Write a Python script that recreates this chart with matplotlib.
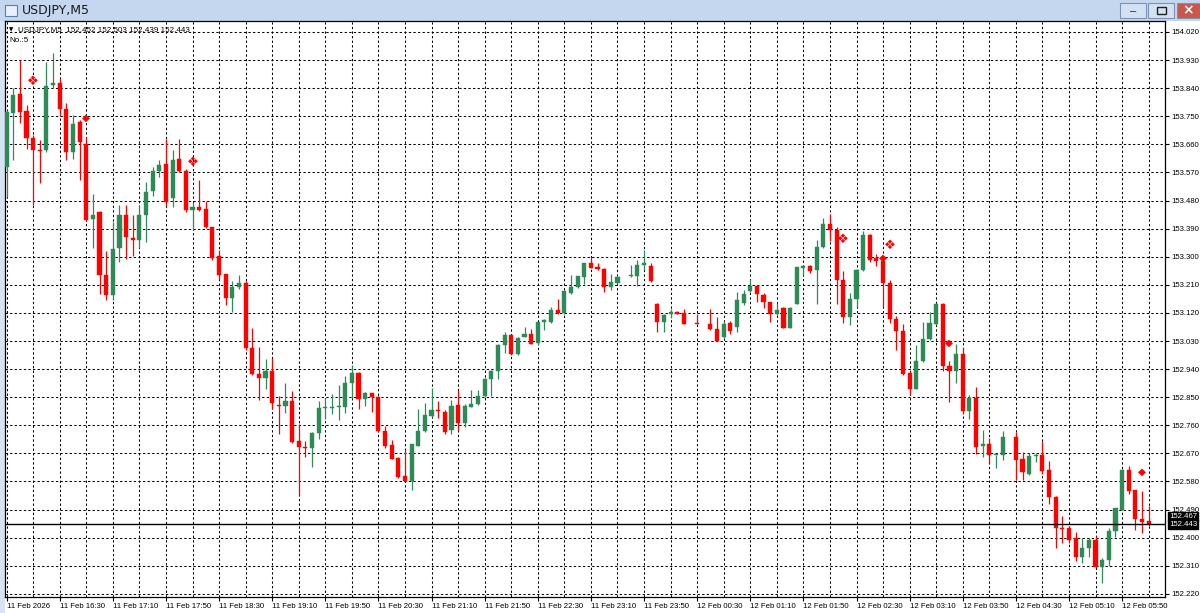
"""
USDJPY M5 蜡烛图（MT4 窗口截图风格）复刻
"""

import numpy as np
import matplotlib
matplotlib.use('Agg')
import matplotlib.pyplot as plt
from matplotlib.patches import Rectangle
from matplotlib.transforms import blended_transform_factory

plt.rcParams['font.family'] = ['Liberation Sans', 'DejaVu Sans']

W, H = 1200, 613

# ========== 数据（逐根 K 线读数，None 表示该位置无可见 K 线）==========
opens = [
    153.587, 153.759, 153.821, 153.766, 153.681, 153.641, 153.641, 153.851, 153.857, 153.773,
    153.634, 153.730, 153.662, 153.420, 153.443, 153.243, 153.178, 153.328, 153.435, 153.361,
    153.354, 153.435, 153.510, 153.574, 153.596, 153.489, 153.612, 153.574, 153.449, 153.459,
    153.454, 153.394, 153.301, 153.244, 153.167, 153.203, 153.216, 153.007, 152.923, 152.910,
    152.935, 152.826, 152.821, 152.839, 152.711, 152.691, 152.687, 152.736, 152.815, 152.814,
    152.819, 152.820, 152.895, 152.929, 152.845, 152.863, 152.852, 152.743, 152.696, 152.655,
    152.596, 152.583, 152.695, 152.741, 152.790, 152.809, 152.803, 152.744, 152.824, 152.768,
    152.819, 152.827, 152.854, 152.909, 152.934, 153.018, 153.048, 152.987, 153.044, 153.051,
    153.023, 153.090, 153.090, 153.130, 153.119, 153.183, 153.202, 153.236, 153.279, 153.266,
    153.260, 153.204, 153.216, None, 153.238, 153.238, 153.274, 153.271, 153.150, 153.091,
    153.118, 153.123, 153.121, None, 153.087, None, 153.084, 153.070, 153.043, 153.087,
    153.075, 153.153, 153.190, 153.206, 153.177, 153.154, 153.117, 153.137, 153.073, 153.149,
    153.265, 153.270, 153.257, 153.332, 153.406, 153.385, 153.225, 153.108, 153.165, 153.257,
    153.371, 153.295, 153.285, 153.215, 153.101, 153.063, 152.929, 152.877, 152.967, 153.038,
    153.086, 153.150, 152.951, 152.935, 152.989, 152.807, 152.847, 152.695, 152.700, 152.664,
    152.665, None, 152.724, 152.651, 152.605, 152.661, 152.666, 152.616, 152.531, 152.432,
    152.430, 152.398, 152.337, 152.368, 152.392, 152.307, 152.330, 152.421, 152.490, 152.616,
    152.552, 152.461, 152.452,
]
highs = [
    153.770, 153.841, 153.930, 153.786, 153.690, 153.673, 153.925, 153.951, 153.871, 153.791,
    153.753, 153.737, 153.684, 153.502, 153.446, 153.317, 153.411, 153.465, 153.465, 153.433,
    153.467, 153.540, 153.588, 153.609, 153.678, 153.642, 153.676, 153.582, 153.475, 153.545,
    153.478, 153.396, 153.323, 153.246, 153.221, 153.240, 153.221, 153.071, 153.010, 152.971,
    152.977, 152.855, 152.894, 152.870, 152.763, 152.709, 152.738, 152.838, 152.849, 152.859,
    152.888, 152.918, 152.953, 152.931, 152.867, 152.865, 152.854, 152.759, 152.714, 152.657,
    152.682, 152.700, 152.813, 152.833, 152.878, 152.838, 152.808, 152.840, 152.872, 152.827,
    152.872, 152.872, 152.911, 152.936, 153.020, 153.058, 153.050, 153.044, 153.074, 153.067,
    153.092, 153.099, 153.138, 153.163, 153.194, 153.241, 153.239, 153.281, 153.298, 153.279,
    153.263, 153.246, 153.236, None, 153.273, 153.291, 153.321, 153.279, 153.152, 153.118,
    153.134, 153.127, 153.134, None, 153.118, None, 153.134, 153.107, 153.093, 153.093,
    153.186, 153.193, 153.228, 153.209, 153.183, 153.156, 153.151, 153.139, 153.140, 153.268,
    153.275, 153.273, 153.353, 153.424, 153.438, 153.395, 153.254, 153.183, 153.262, 153.381,
    153.373, 153.310, 153.300, 153.225, 153.109, 153.085, 152.933, 153.018, 153.090, 153.122,
    153.152, 153.152, 152.965, 153.020, 153.008, 152.858, 152.884, 152.745, 152.718, 152.666,
    152.742, None, 152.740, 152.675, 152.672, 152.672, 152.710, 152.646, 152.533, 152.470,
    152.437, 152.419, 152.398, 152.398, 152.405, 152.334, 152.430, 152.496, 152.621, 152.629,
    152.554, 152.550, 152.503,
]
lows = [
    153.490, 153.609, 153.727, 153.646, 153.467, 153.537, 153.634, 153.839, 153.751, 153.609,
    153.614, 153.545, 153.414, 153.329, 153.181, 153.160, 153.160, 153.283, 153.293, 153.302,
    153.328, 153.347, 153.494, 153.555, 153.464, 153.459, 153.572, 153.443, 153.387, 153.446,
    153.392, 153.290, 153.228, 153.146, 153.124, 153.196, 153.001, 152.921, 152.841, 152.875,
    152.811, 152.732, 152.798, 152.703, 152.537, 152.657, 152.628, 152.717, 152.779, 152.795,
    152.777, 152.800, 152.849, 152.811, 152.822, 152.802, 152.738, 152.687, 152.652, 152.591,
    152.580, 152.553, 152.693, 152.740, 152.787, 152.784, 152.733, 152.733, 152.744, 152.755,
    152.817, 152.824, 152.851, 152.854, 152.909, 152.991, 152.984, 152.985, 153.042, 153.019,
    153.018, 153.064, 153.088, 153.117, 153.117, 153.181, 153.200, 153.214, 153.263, 153.259,
    153.188, 153.193, 153.211, None, 153.236, 153.206, 153.257, 153.220, 153.059, 153.059,
    153.105, 153.116, 153.083, None, 153.083, None, 153.064, 153.029, 153.041, 153.052,
    153.060, 153.146, 153.188, 153.156, 153.135, 153.090, 153.114, 153.071, 153.071, 153.148,
    153.241, 153.247, 153.148, 153.329, 153.350, 153.148, 153.087, 153.080, 153.140, 153.255,
    153.284, 153.270, 153.140, 153.088, 153.002, 152.922, 152.858, 152.875, 152.963, 153.034,
    153.082, 152.933, 152.836, 152.897, 152.797, 152.779, 152.668, 152.659, 152.640, 152.622,
    152.649, None, 152.584, 152.586, 152.600, 152.643, 152.605, 152.509, 152.366, 152.384,
    152.382, 152.326, 152.318, 152.339, 152.302, 152.256, 152.309, 152.403, 152.488, 152.541,
    152.426, 152.416, 152.439,
]
closes = [
    153.764, 153.818, 153.764, 153.681, 153.643, 153.639, 153.848, 153.854, 153.773, 153.634,
    153.725, 153.668, 153.416, 153.435, 153.242, 153.178, 153.325, 153.433, 153.363, 153.354,
    153.435, 153.507, 153.574, 153.593, 153.475, 153.609, 153.574, 153.449, 153.459, 153.451,
    153.394, 153.296, 153.242, 153.167, 153.203, 153.216, 153.007, 152.923, 152.910, 152.934,
    152.830, 152.821, 152.839, 152.705, 152.690, 152.686, 152.734, 152.816, 152.817, 152.820,
    152.821, 152.897, 152.929, 152.843, 152.863, 152.852, 152.741, 152.695, 152.653, 152.594,
    152.583, 152.700, 152.741, 152.793, 152.809, 152.805, 152.739, 152.822, 152.768, 152.822,
    152.827, 152.854, 152.909, 152.934, 153.018, 153.048, 152.987, 153.040, 153.053, 153.021,
    153.090, 153.096, 153.130, 153.119, 153.189, 153.204, 153.237, 153.279, 153.265, 153.261,
    153.204, 153.218, 153.234, None, 153.241, 153.273, 153.280, 153.223, 153.091, 153.113,
    153.120, 153.118, 153.084, None, 153.085, None, 153.070, 153.030, 153.084, 153.063,
    153.162, 153.181, 153.206, 153.180, 153.154, 153.117, 153.130, 153.073, 153.137, 153.266,
    153.267, 153.255, 153.332, 153.406, 153.385, 153.225, 153.108, 153.165, 153.257, 153.369,
    153.289, 153.285, 153.215, 153.101, 153.061, 152.925, 152.877, 152.967, 153.038, 153.088,
    153.147, 152.951, 152.935, 152.988, 152.807, 152.847, 152.692, 152.700, 152.665, 152.666,
    152.724, None, 152.650, 152.609, 152.661, 152.666, 152.614, 152.529, 152.430, 152.427,
    152.394, 152.337, 152.368, 152.392, 152.305, 152.330, 152.421, 152.494, 152.616, 152.550,
    152.461, 152.451, 152.443,
]

# 时间轴标签（每 8 根一个）
time_labels = [
    '11 Feb 2026', '11 Feb 16:30', '11 Feb 17:10', '11 Feb 17:50', '11 Feb 18:30',
    '11 Feb 19:10', '11 Feb 19:50', '11 Feb 20:30', '11 Feb 21:10', '11 Feb 21:50',
    '11 Feb 22:30', '11 Feb 23:10', '11 Feb 23:50', '12 Feb 00:30', '12 Feb 01:10',
    '12 Feb 01:50', '12 Feb 02:30', '12 Feb 03:10', '12 Feb 03:50', '12 Feb 04:30',
    '12 Feb 05:10', '12 Feb 05:50',
]

# 价格轴刻度
price_ticks = [152.220, 152.310, 152.400, 152.490, 152.580, 152.670, 152.760, 152.850,
               152.940, 153.030, 153.120, 153.210, 153.300, 153.390, 153.480, 153.570,
               153.660, 153.750, 153.840, 153.930, 154.020]

# 信号标记（K 线序号、价格、类型）
marker_bars = [4, 12, 28, 126, 133, 132, 142, 171]
marker_prices = [153.860, 153.745, 153.601, 153.356, 153.336, 153.296, 153.025, 152.610]
marker_kinds = ['cluster', 'single', 'cluster', 'cluster', 'cluster', 'single', 'single', 'single']

bid_price = 152.443
ask_price = 152.467
header = 'USDJPY,M5  152.452 152.503 152.439 152.443'

BULL = '#2e8b57'
BEAR = '#ff0000'
FS = 5.6  # 坐标轴小字号


def fig_rect(x0, y0, x1, y1):
    """像素坐标（左上原点）转为 figure 坐标矩形"""
    return (x0 / W, 1 - y1 / H), (x1 - x0) / W, (y1 - y0) / H


def add_box(fig, x0, y0, x1, y1, **kw):
    (x, y), w, h = fig_rect(x0, y0, x1, y1)
    fig.add_artist(Rectangle((x, y), w, h, transform=fig.transFigure, zorder=0, **kw))


def draw_window(fig):
    """窗口边框、标题栏和按钮"""
    fig.patch.set_facecolor('#d6e3f2')
    add_box(fig, 0, 0, 1200, 21, facecolor='#c4d7ee', edgecolor='none')
    add_box(fig, 5, 21, 1200, 613, facecolor='white', edgecolor='none')
    # 标题图标
    add_box(fig, 5, 5, 17, 16, facecolor='#e8f0fa', edgecolor='#5a7fb0', lw=0.8)
    fig.text(22 / W, 1 - 10.5 / H, 'USDJPY,M5', fontsize=9, va='center', ha='left',
             family=['DejaVu Sans'], color='#1a1a1a')
    # 最小化 / 最大化 / 关闭
    for (x0, x1, fc) in [(1120, 1146, '#d3e1f3'), (1148, 1174, '#d3e1f3'), (1177, 1200, '#c9574c')]:
        add_box(fig, x0, 3, x1, 18, facecolor=fc, edgecolor='#7d93b3', lw=0.8)
    fig.text(1133 / W, 1 - 11 / H, '–', fontsize=8, ha='center', va='center', color='#222222')
    add_box(fig, 1157, 7, 1166, 14, facecolor='none', edgecolor='#222222', lw=1.0)
    fig.text(1188.5 / W, 1 - 10.5 / H, '×', fontsize=10, ha='center', va='center',
             color='white', fontweight='bold', family=['DejaVu Sans'])


def draw_candles(ax):
    o = np.array(opens, dtype=float)
    h = np.array(highs, dtype=float)
    l = np.array(lows, dtype=float)
    c = np.array(closes, dtype=float)
    x = np.arange(len(o))
    ok = ~np.isnan(o)
    up = ok & (c >= o)
    dn = ok & (c < o)
    for mask, col in [(up, BULL), (dn, BEAR)]:
        ax.vlines(x[mask], l[mask], h[mask], color=col, lw=0.9, zorder=3)
        body = np.maximum(np.abs(c[mask] - o[mask]), 0.004)
        ax.bar(x[mask], body, bottom=np.minimum(o[mask], c[mask]), width=0.62,
               color=col, edgecolor=col, lw=0.3, zorder=4)


def draw_markers(ax):
    for b, p, k in zip(marker_bars, marker_prices, marker_kinds):
        if k == 'cluster':
            ax.text(b, p, '❖', color=BEAR, fontsize=9.5, ha='center', va='center',
                    family=['DejaVu Sans'], zorder=5)
        else:
            ax.text(b, p, '◆', color=BEAR, fontsize=7.5, ha='center', va='center',
                    family=['DejaVu Sans'], zorder=5)


def main():
    fig = plt.figure(figsize=(W / 100, H / 100), dpi=100)
    draw_window(fig)

    # 图表区：x 5..1165 px, y 21..597 px
    ax = fig.add_axes([5 / W, 1 - 597 / H, 1160 / W, 576 / H])
    ax.set_zorder(5)
    ax.set_facecolor('white')
    n = len(opens)
    ax.set_xlim(-0.24, 174.46)
    ax.set_ylim(152.210, 154.055)

    # 网格
    for p in price_ticks:
        ax.axhline(p, color='black', lw=0.75, ls=(0, (2.2, 2.2)), zorder=1)
    for b in range(0, n, 4):
        ax.axvline(b, color='black', lw=0.75, ls=(0, (2.2, 2.2)), zorder=1)

    draw_candles(ax)
    draw_markers(ax)

    # 当前价格线
    ax.axhline(bid_price, color='black', lw=1.0, zorder=6)

    # 坐标轴
    ax.yaxis.tick_right()
    ax.set_yticks(price_ticks)
    ax.set_yticklabels([f'{p:.3f}' for p in price_ticks], fontsize=FS)
    ax.set_xticks(list(range(0, n, 8)))
    ax.set_xticklabels(time_labels, fontsize=FS, ha='left')
    ax.tick_params(axis='x', length=3, width=0.8, pad=1.5, colors='black')
    ax.tick_params(axis='y', length=3, width=0.8, pad=1.5, colors='black')
    for s in ax.spines.values():
        s.set_color('black')
        s.set_linewidth(0.9)

    # 右侧价格框
    tr = blended_transform_factory(ax.transAxes, ax.transData)
    for p in [ask_price, bid_price]:
        ax.text(1.0 + 4 / 1160, p, f'{p:.3f}', transform=tr, fontsize=FS, color='white',
                va='center', ha='left', zorder=10, clip_on=False,
                bbox=dict(facecolor='black', edgecolor='black', pad=0.6))

    # 左上角信息
    ax.text(4 / 1160, 1 - 9 / 576, '▼', transform=ax.transAxes, fontsize=4,
            va='center', ha='left', family=['DejaVu Sans'])
    ax.text(13 / 1160, 1 - 9 / 576, header, transform=ax.transAxes, fontsize=5.8,
            va='center', ha='left', zorder=7)
    ax.text(4 / 1160, 1 - 20 / 576, 'No.:5', transform=ax.transAxes, fontsize=5.8,
            va='center', ha='left', zorder=7)

    fig.savefig('out.png', dpi=100, facecolor=fig.get_facecolor())
    plt.close(fig)


if __name__ == '__main__':
    main()
